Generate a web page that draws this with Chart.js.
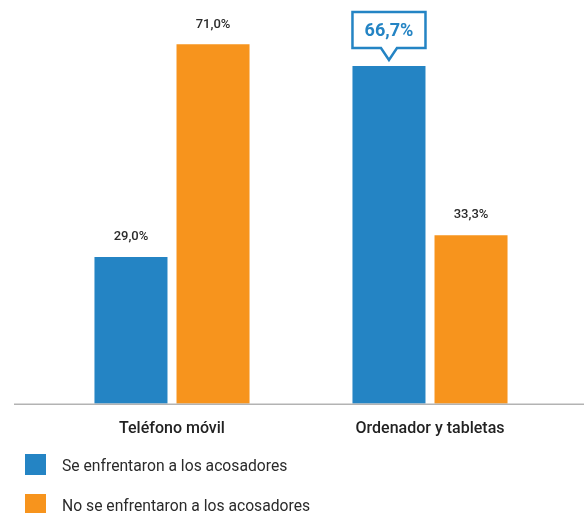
<!DOCTYPE html>
<html lang="es">
<head>
<meta charset="utf-8">
<script src="https://cdn.jsdelivr.net/npm/chart.js@4.4.0/dist/chart.umd.min.js"></script>
<style>
  html, body { margin: 0; padding: 0; background: #fff; }
  #wrap { width: 584px; height: 513px; position: relative; }
</style>
</head>
<body>
<div id="wrap"><canvas id="grafico"></canvas></div>
<script>
// Datos del gráfico
const categorias = ['Teléfono móvil', 'Ordenador y tabletas'];
const seriesNombres = ['Se enfrentaron a los acosadores', 'No se enfrentaron a los acosadores'];
const enfrentaron = [29.0, 66.7];
const noEnfrentaron = [71.0, 33.3];
// barra destacada con globo (serie, índice)
const destacada = { serie: 0, indice: 1 };

const azul = '#2484c4';
const naranja = '#f7941d';
const fuente = 'Roboto, "DejaVu Sans", sans-serif';

const formato = v => v.toFixed(1).replace('.', ',') + '%';

// Etiquetas de valor sobre cada barra + globo en la destacada
const etiquetasPlugin = {
  id: 'etiquetas',
  afterDatasetsDraw(chart) {
    const ctx = chart.ctx;
    chart.data.datasets.forEach((ds, i) => {
      const meta = chart.getDatasetMeta(i);
      meta.data.forEach((bar, j) => {
        const texto = formato(ds.data[j]);
        ctx.save();
        if (i === destacada.serie && j === destacada.indice) {
          const w = bar.width;
          const x0 = bar.x - w / 2;
          const yTip = bar.y - 6;
          const alto = 36;
          const yBase = yTip - 12;
          const yTop = yBase - alto;
          ctx.beginPath();
          ctx.moveTo(x0, yTop);
          ctx.lineTo(x0 + w, yTop);
          ctx.lineTo(x0 + w, yBase);
          ctx.lineTo(bar.x + 8, yBase);
          ctx.lineTo(bar.x, yTip);
          ctx.lineTo(bar.x - 8, yBase);
          ctx.lineTo(x0, yBase);
          ctx.closePath();
          ctx.fillStyle = '#fff';
          ctx.fill();
          ctx.lineWidth = 2.5;
          ctx.strokeStyle = azul;
          ctx.stroke();
          ctx.fillStyle = azul;
          ctx.font = 'bold 18px ' + fuente;
          ctx.textAlign = 'center';
          ctx.textBaseline = 'middle';
          ctx.fillText(texto, bar.x, yTop + alto / 2 + 1);
        } else {
          ctx.fillStyle = '#2b2b2b';
          ctx.font = '500 13px ' + fuente;
          ctx.textAlign = 'center';
          ctx.textBaseline = 'middle';
          ctx.fillText(texto, bar.x, bar.y - 20);
        }
        ctx.restore();
      });
    });
  }
};

// Línea base y leyenda vertical
const basePlugin = {
  id: 'base',
  afterDraw(chart) {
    const ctx = chart.ctx;
    const y0 = chart.scales.y.getPixelForValue(0);
    ctx.save();
    ctx.strokeStyle = '#b3b3b3';
    ctx.lineWidth = 1.5;
    ctx.beginPath();
    ctx.moveTo(14, y0 + 0.5);
    ctx.lineTo(chart.width, y0 + 0.5);
    ctx.stroke();

    chart.data.datasets.forEach((ds, i) => {
      const y = 454 + i * 40;
      ctx.fillStyle = ds.backgroundColor;
      ctx.fillRect(25, y, 21, 21);
      ctx.fillStyle = '#2b2b2b';
      ctx.font = '15.7px ' + fuente;
      ctx.textAlign = 'left';
      ctx.textBaseline = 'middle';
      ctx.fillText(ds.label, 62, y + 13);
    });
    ctx.restore();
  }
};

const ctxBarras = document.getElementById('grafico').getContext('2d');
const grafico = new Chart(ctxBarras, {
  type: 'bar',
  data: {
    labels: categorias,
    datasets: [
      { label: seriesNombres[0], data: enfrentaron, backgroundColor: azul },
      { label: seriesNombres[1], data: noEnfrentaron, backgroundColor: naranja }
    ]
  },
  options: {
    responsive: true,
    maintainAspectRatio: false,
    animation: false,
    categoryPercentage: 0.636,
    barPercentage: 0.89,
    layout: { padding: { top: 24, left: 43, right: 25, bottom: 58 } },
    plugins: {
      legend: { display: false },
      tooltip: { enabled: false }
    },
    scales: {
      x: {
        grid: { display: false, drawTicks: false },
        border: { display: false },
        ticks: {
          padding: 16,
          color: '#222',
          font: { family: fuente, size: 16, weight: '500' }
        }
      },
      y: {
        display: false,
        min: 0,
        max: 75
      }
    }
  },
  plugins: [etiquetasPlugin, basePlugin]
});
</script>
</body>
</html>
